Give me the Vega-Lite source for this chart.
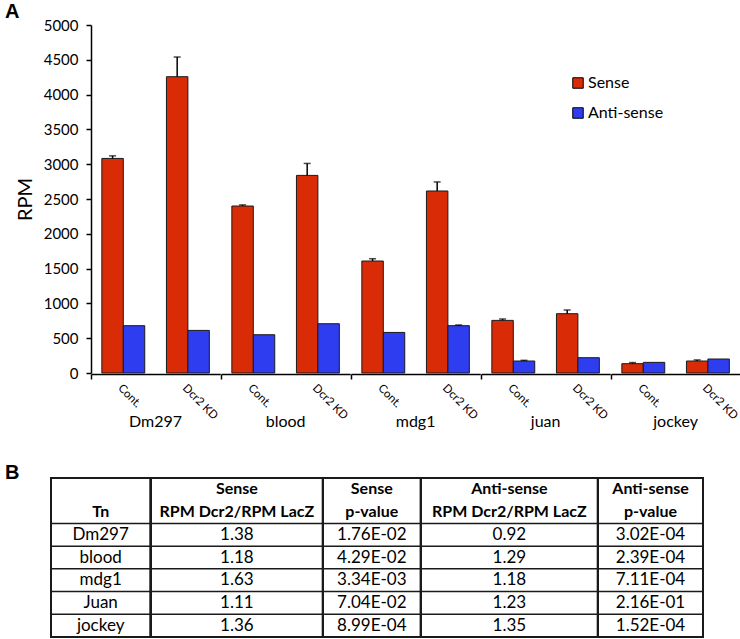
{
  "$schema": "https://vega.github.io/schema/vega-lite/v6.json",
  "background": "white",
  "padding": {"left": 5, "top": 2, "right": 5, "bottom": 0},
  "spacing": 32,
  "config": {
    "font": "Lato",
    "view": {"stroke": null},
    "axis": {"labelColor": "black", "titleColor": "black", "domainColor": "black", "tickColor": "black", "grid": false, "labelFont": "Lato", "titleFont": "Lato"},
    "header": {"labelFont": "Lato", "labelColor": "black"},
    "title": {"font": "Liberation Sans", "fontWeight": "bold", "fontSize": 20, "color": "black"},
    "text": {"font": "Lato", "color": "black"}
  },
  "datasets": {
    "bars": [
      {"te": "Dm297", "cond": "Cont.", "strand": "Sense", "v": 3083, "hi": 3120},
      {"te": "Dm297", "cond": "Cont.", "strand": "Anti-sense", "v": 680, "hi": null},
      {"te": "Dm297", "cond": "Dcr2 KD", "strand": "Sense", "v": 4257, "hi": 4540},
      {"te": "Dm297", "cond": "Dcr2 KD", "strand": "Anti-sense", "v": 612, "hi": null},
      {"te": "blood", "cond": "Cont.", "strand": "Sense", "v": 2399, "hi": 2415},
      {"te": "blood", "cond": "Cont.", "strand": "Anti-sense", "v": 550, "hi": null},
      {"te": "blood", "cond": "Dcr2 KD", "strand": "Sense", "v": 2839, "hi": 3011},
      {"te": "blood", "cond": "Dcr2 KD", "strand": "Anti-sense", "v": 708, "hi": null},
      {"te": "mdg1", "cond": "Cont.", "strand": "Sense", "v": 1609, "hi": 1642},
      {"te": "mdg1", "cond": "Cont.", "strand": "Anti-sense", "v": 583, "hi": null},
      {"te": "mdg1", "cond": "Dcr2 KD", "strand": "Sense", "v": 2615, "hi": 2745},
      {"te": "mdg1", "cond": "Dcr2 KD", "strand": "Anti-sense", "v": 680, "hi": 690},
      {"te": "juan", "cond": "Cont.", "strand": "Sense", "v": 756, "hi": 776},
      {"te": "juan", "cond": "Cont.", "strand": "Anti-sense", "v": 172, "hi": 182},
      {"te": "juan", "cond": "Dcr2 KD", "strand": "Sense", "v": 852, "hi": 905},
      {"te": "juan", "cond": "Dcr2 KD", "strand": "Anti-sense", "v": 220, "hi": null},
      {"te": "jockey", "cond": "Cont.", "strand": "Sense", "v": 134, "hi": 150},
      {"te": "jockey", "cond": "Cont.", "strand": "Anti-sense", "v": 153, "hi": null},
      {"te": "jockey", "cond": "Dcr2 KD", "strand": "Sense", "v": 172, "hi": 188},
      {"te": "jockey", "cond": "Dcr2 KD", "strand": "Anti-sense", "v": 201, "hi": null}
    ],
    "table": [
      {"col": "Tn", "row": "h2", "text": "Tn"},
      {"col": "Tn", "row": "Dm297", "text": "Dm297"},
      {"col": "Tn", "row": "blood", "text": "blood"},
      {"col": "Tn", "row": "mdg1", "text": "mdg1"},
      {"col": "Tn", "row": "Juan", "text": "Juan"},
      {"col": "Tn", "row": "jockey", "text": "jockey"},
      {"col": "SR", "row": "h1", "text": "Sense"},
      {"col": "SR", "row": "h2", "text": "RPM Dcr2/RPM LacZ"},
      {"col": "SR", "row": "Dm297", "text": "1.38"},
      {"col": "SR", "row": "blood", "text": "1.18"},
      {"col": "SR", "row": "mdg1", "text": "1.63"},
      {"col": "SR", "row": "Juan", "text": "1.11"},
      {"col": "SR", "row": "jockey", "text": "1.36"},
      {"col": "SP", "row": "h1", "text": "Sense"},
      {"col": "SP", "row": "h2", "text": "p-value"},
      {"col": "SP", "row": "Dm297", "text": "1.76E-02"},
      {"col": "SP", "row": "blood", "text": "4.29E-02"},
      {"col": "SP", "row": "mdg1", "text": "3.34E-03"},
      {"col": "SP", "row": "Juan", "text": "7.04E-02"},
      {"col": "SP", "row": "jockey", "text": "8.99E-04"},
      {"col": "AR", "row": "h1", "text": "Anti-sense"},
      {"col": "AR", "row": "h2", "text": "RPM Dcr2/RPM LacZ"},
      {"col": "AR", "row": "Dm297", "text": "0.92"},
      {"col": "AR", "row": "blood", "text": "1.29"},
      {"col": "AR", "row": "mdg1", "text": "1.18"},
      {"col": "AR", "row": "Juan", "text": "1.23"},
      {"col": "AR", "row": "jockey", "text": "1.35"},
      {"col": "AP", "row": "h1", "text": "Anti-sense"},
      {"col": "AP", "row": "h2", "text": "p-value"},
      {"col": "AP", "row": "Dm297", "text": "3.02E-04"},
      {"col": "AP", "row": "blood", "text": "2.39E-04"},
      {"col": "AP", "row": "mdg1", "text": "7.11E-04"},
      {"col": "AP", "row": "Juan", "text": "2.16E-01"},
      {"col": "AP", "row": "jockey", "text": "1.52E-04"}
    ]
  },
  "vconcat": [
    {
      "title": {"text": "A", "anchor": "start", "frame": "group", "dx": -46, "offset": -4},
      "bounds": "flush",
      "spacing": 0,
      "hconcat": [
        {
          "width": 40, "height": 348,
          "data": {"values": []},
          "mark": "point"
        },
        {
          "data": {"name": "bars"},
          "facet": {
            "column": {
              "field": "te", "type": "nominal",
              "sort": ["Dm297", "blood", "mdg1", "juan", "jockey"],
              "title": null,
              "header": {"labelOrient": "bottom", "labelFontSize": 16, "labelPadding": -7}
            }
          },
          "spacing": 0,
          "spec": {
            "width": 129.2,
            "height": 348,
            "encoding": {
              "x": {
                "field": "cond", "type": "nominal", "sort": ["Cont.", "Dcr2 KD"],
                "scale": {"type": "band", "paddingInner": 0.336, "paddingOuter": 0.168},
                "axis": {
                  "title": null, "labelAngle": 45, "labelFontSize": 11.5, "labelPadding": 3,
                  "domainWidth": 1.5, "tickSize": 5, "tickWidth": 1.5,
                  "tickOffset": -32.3, "labelOffset": 32.3,
                  "tickOpacity": {"condition": {"test": "datum.value === 'Cont.'", "value": 1}, "value": 0}
                }
              },
              "xOffset": {
                "field": "strand", "type": "nominal", "sort": ["Sense", "Anti-sense"],
                "scale": {"type": "band", "paddingInner": 0, "paddingOuter": 0}
              }
            },
            "layer": [
              {
                "mark": {"type": "bar", "stroke": "#1a1a1a", "strokeWidth": 1},
                "encoding": {
                  "y": {
                    "field": "v", "type": "quantitative",
                    "scale": {"domain": [0, 5000], "nice": false},
                    "axis": {
                      "title": "RPM", "titleFontSize": 20, "titleFontWeight": "normal", "titlePadding": 8,
                      "labelFontSize": 15, "labelPadding": 8, "tickSize": 5, "tickWidth": 1.5,
                      "domainWidth": 1.5, "tickCount": 10, "format": "d"
                    }
                  },
                  "color": {
                    "field": "strand", "type": "nominal",
                    "scale": {"domain": ["Sense", "Anti-sense"], "range": ["#d92b06", "#2e3df0"]},
                    "legend": {
                      "title": null, "orient": "none", "legendX": 519, "legendY": 50,
                      "symbolType": "square", "symbolSize": 110, "symbolStrokeColor": "black",
                      "symbolStrokeWidth": 1, "labelFontSize": 16, "labelColor": "black",
                      "rowPadding": 14, "labelOffset": 2, "padding": 0
                    }
                  }
                }
              },
              {
                "transform": [{"filter": "datum.hi != null"}],
                "mark": {"type": "rule", "color": "black", "strokeWidth": 1.5},
                "encoding": {
                  "y": {"field": "v", "type": "quantitative"},
                  "y2": {"field": "hi"}
                }
              },
              {
                "transform": [{"filter": "datum.hi != null"}],
                "mark": {"type": "tick", "color": "black", "thickness": 1.5, "size": 7},
                "encoding": {
                  "y": {"field": "hi", "type": "quantitative"}
                }
              }
            ]
          }
        }
      ]
    },
    {
      "title": {"text": "B", "anchor": "start", "frame": "group", "dx": -46, "offset": -6},
      "spacing": 0,
      "bounds": "flush",
      "hconcat": [
        {
          "width": 99.3, "height": 159,
          "data": {"name": "table"},
          "transform": [{"filter": "datum.col === 'Tn'"}],
          "view": {"stroke": "#1a1a1a", "strokeWidth": 2},
          "encoding": {
            "y": {"field": "row", "type": "nominal", "scale": {"type": "band", "domain": ["h1", "h2", "Dm297", "blood", "mdg1", "Juan", "jockey"], "paddingInner": 0, "paddingOuter": 0}, "axis": null}
          },
          "layer": [
            {"transform": [{"filter": "datum.row !== 'h1' && datum.row !== 'h2'"}], "mark": {"type": "text", "fontSize": 17}, "encoding": {"text": {"field": "text"}}},
            {"transform": [{"filter": "datum.row === 'h1' || datum.row === 'h2'"}], "mark": {"type": "text", "fontSize": 16, "fontWeight": "bold"}, "encoding": {"text": {"field": "text"}}},
            {"transform": [{"filter": "datum.row !== 'h1' && datum.row !== 'h2'"}], "mark": {"type": "rule", "color": "#1a1a1a", "strokeWidth": 1.5}, "encoding": {"y": {"field": "row", "type": "nominal", "bandPosition": 0}}}
          ]
        },
        {
          "width": 171.7, "height": 159,
          "data": {"name": "table"},
          "transform": [{"filter": "datum.col === 'SR'"}],
          "view": {"stroke": "#1a1a1a", "strokeWidth": 2},
          "encoding": {
            "y": {"field": "row", "type": "nominal", "scale": {"type": "band", "domain": ["h1", "h2", "Dm297", "blood", "mdg1", "Juan", "jockey"], "paddingInner": 0, "paddingOuter": 0}, "axis": null}
          },
          "layer": [
            {"transform": [{"filter": "datum.row !== 'h1' && datum.row !== 'h2'"}], "mark": {"type": "text", "fontSize": 17}, "encoding": {"text": {"field": "text"}}},
            {"transform": [{"filter": "datum.row === 'h1' || datum.row === 'h2'"}], "mark": {"type": "text", "fontSize": 16, "fontWeight": "bold"}, "encoding": {"text": {"field": "text"}}},
            {"transform": [{"filter": "datum.row !== 'h1' && datum.row !== 'h2'"}], "mark": {"type": "rule", "color": "#1a1a1a", "strokeWidth": 1.5}, "encoding": {"y": {"field": "row", "type": "nominal", "bandPosition": 0}}}
          ]
        },
        {
          "width": 97.6, "height": 159,
          "data": {"name": "table"},
          "transform": [{"filter": "datum.col === 'SP'"}],
          "view": {"stroke": "#1a1a1a", "strokeWidth": 2},
          "encoding": {
            "y": {"field": "row", "type": "nominal", "scale": {"type": "band", "domain": ["h1", "h2", "Dm297", "blood", "mdg1", "Juan", "jockey"], "paddingInner": 0, "paddingOuter": 0}, "axis": null}
          },
          "layer": [
            {"transform": [{"filter": "datum.row !== 'h1' && datum.row !== 'h2'"}], "mark": {"type": "text", "fontSize": 17}, "encoding": {"text": {"field": "text"}}},
            {"transform": [{"filter": "datum.row === 'h1' || datum.row === 'h2'"}], "mark": {"type": "text", "fontSize": 16, "fontWeight": "bold"}, "encoding": {"text": {"field": "text"}}},
            {"transform": [{"filter": "datum.row !== 'h1' && datum.row !== 'h2'"}], "mark": {"type": "rule", "color": "#1a1a1a", "strokeWidth": 1.5}, "encoding": {"y": {"field": "row", "type": "nominal", "bandPosition": 0}}}
          ]
        },
        {
          "width": 176.7, "height": 159,
          "data": {"name": "table"},
          "transform": [{"filter": "datum.col === 'AR'"}],
          "view": {"stroke": "#1a1a1a", "strokeWidth": 2},
          "encoding": {
            "y": {"field": "row", "type": "nominal", "scale": {"type": "band", "domain": ["h1", "h2", "Dm297", "blood", "mdg1", "Juan", "jockey"], "paddingInner": 0, "paddingOuter": 0}, "axis": null}
          },
          "layer": [
            {"transform": [{"filter": "datum.row !== 'h1' && datum.row !== 'h2'"}], "mark": {"type": "text", "fontSize": 17}, "encoding": {"text": {"field": "text"}}},
            {"transform": [{"filter": "datum.row === 'h1' || datum.row === 'h2'"}], "mark": {"type": "text", "fontSize": 16, "fontWeight": "bold"}, "encoding": {"text": {"field": "text"}}},
            {"transform": [{"filter": "datum.row !== 'h1' && datum.row !== 'h2'"}], "mark": {"type": "rule", "color": "#1a1a1a", "strokeWidth": 1.5}, "encoding": {"y": {"field": "row", "type": "nominal", "bandPosition": 0}}}
          ]
        },
        {
          "width": 105, "height": 159,
          "data": {"name": "table"},
          "transform": [{"filter": "datum.col === 'AP'"}],
          "view": {"stroke": "#1a1a1a", "strokeWidth": 2},
          "encoding": {
            "y": {"field": "row", "type": "nominal", "scale": {"type": "band", "domain": ["h1", "h2", "Dm297", "blood", "mdg1", "Juan", "jockey"], "paddingInner": 0, "paddingOuter": 0}, "axis": null}
          },
          "layer": [
            {"transform": [{"filter": "datum.row !== 'h1' && datum.row !== 'h2'"}], "mark": {"type": "text", "fontSize": 17}, "encoding": {"text": {"field": "text"}}},
            {"transform": [{"filter": "datum.row === 'h1' || datum.row === 'h2'"}], "mark": {"type": "text", "fontSize": 16, "fontWeight": "bold"}, "encoding": {"text": {"field": "text"}}},
            {"transform": [{"filter": "datum.row !== 'h1' && datum.row !== 'h2'"}], "mark": {"type": "rule", "color": "#1a1a1a", "strokeWidth": 1.5}, "encoding": {"y": {"field": "row", "type": "nominal", "bandPosition": 0}}}
          ]
        }
      ]
    }
  ]
}
